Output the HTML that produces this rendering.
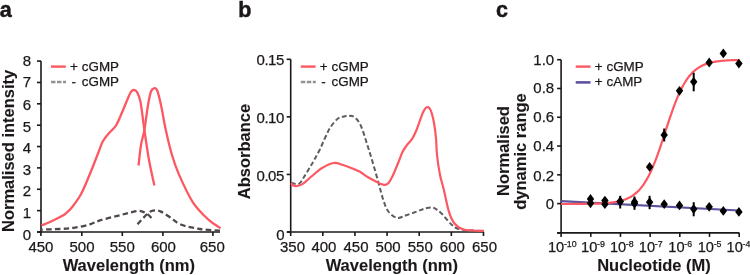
<!DOCTYPE html>
<html><head><meta charset="utf-8"><style>
html,body{margin:0;padding:0;background:#fff;}
svg{display:block;will-change:transform;}
text{font-family:"Liberation Sans", sans-serif;fill:#1c1819;stroke:#1c1819;stroke-width:0.25px;}
</style></head><body>
<svg width="750" height="275" viewBox="0 0 750 275">
<text x="-0.2" y="16.6" font-size="21.5" font-weight="bold" style="stroke-width:0.5px">a</text>
<text x="238.3" y="16.6" font-size="21.5" font-weight="bold" style="stroke-width:0.45px">b</text>
<text x="496" y="16.6" font-size="21.5" font-weight="bold" style="stroke-width:0.45px">c</text>
<line x1="41" y1="61.1" x2="41" y2="232" stroke="#1c1819" stroke-width="1.6"/>
<line x1="37" y1="232.0" x2="41" y2="232.0" stroke="#1c1819" stroke-width="1.6"/>
<text x="31" y="240.30" text-anchor="end" font-size="15">0</text>
<line x1="37" y1="210.6375" x2="41" y2="210.6375" stroke="#1c1819" stroke-width="1.6"/>
<text x="31" y="218.34" text-anchor="end" font-size="15">1</text>
<line x1="37" y1="189.275" x2="41" y2="189.275" stroke="#1c1819" stroke-width="1.6"/>
<text x="31" y="195.58" text-anchor="end" font-size="15">2</text>
<line x1="37" y1="167.9125" x2="41" y2="167.9125" stroke="#1c1819" stroke-width="1.6"/>
<text x="31" y="174.81" text-anchor="end" font-size="15">3</text>
<line x1="37" y1="146.55" x2="41" y2="146.55" stroke="#1c1819" stroke-width="1.6"/>
<text x="31" y="153.45" text-anchor="end" font-size="15">4</text>
<line x1="37" y1="125.1875" x2="41" y2="125.1875" stroke="#1c1819" stroke-width="1.6"/>
<text x="31" y="132.29" text-anchor="end" font-size="15">5</text>
<line x1="37" y1="103.82499999999999" x2="41" y2="103.82499999999999" stroke="#1c1819" stroke-width="1.6"/>
<text x="31" y="109.82" text-anchor="end" font-size="15">6</text>
<line x1="37" y1="82.4625" x2="41" y2="82.4625" stroke="#1c1819" stroke-width="1.6"/>
<text x="31" y="87.16" text-anchor="end" font-size="15">7</text>
<line x1="37" y1="61.099999999999994" x2="41" y2="61.099999999999994" stroke="#1c1819" stroke-width="1.6"/>
<text x="31" y="66.40" text-anchor="end" font-size="15">8</text>
<line x1="37.2" y1="232" x2="220" y2="232" stroke="#1c1819" stroke-width="1.6"/>
<line x1="40.9" y1="232" x2="40.9" y2="236" stroke="#1c1819" stroke-width="1.6"/>
<text x="40.90" y="252" text-anchor="middle" font-size="15">450</text>
<line x1="81.8" y1="232" x2="81.8" y2="236" stroke="#1c1819" stroke-width="1.6"/>
<text x="82.00" y="252" text-anchor="middle" font-size="15">500</text>
<line x1="122.3" y1="232" x2="122.3" y2="236" stroke="#1c1819" stroke-width="1.6"/>
<text x="122.30" y="252" text-anchor="middle" font-size="15">550</text>
<line x1="162.9" y1="232" x2="162.9" y2="236" stroke="#1c1819" stroke-width="1.6"/>
<text x="163.40" y="252" text-anchor="middle" font-size="15">600</text>
<line x1="212.9" y1="232" x2="212.9" y2="236" stroke="#1c1819" stroke-width="1.6"/>
<text x="212.30" y="252" text-anchor="middle" font-size="15">650</text>
<text x="128.8" y="270.5" text-anchor="middle" font-size="16.5" font-weight="bold" style="stroke-width:0.1px">Wavelength (nm)</text>
<text transform="translate(14.2 150.9) rotate(-90)" text-anchor="middle" font-size="16.5" font-weight="bold" style="stroke-width:0.1px">Normalised intensity</text>
<line x1="51" y1="66.6" x2="65.8" y2="66.6" stroke="#fd5862" stroke-width="2.4"/>
<text x="70.0" y="71.4" font-size="13.4">+</text>
<text x="81.8" y="71.4" font-size="13.4">cGMP</text>
<line x1="51" y1="82" x2="66" y2="82" stroke="#939393" stroke-width="2.4" stroke-dasharray="4.5 1.5"/>
<text x="71.4" y="85.7" font-size="13.4">-</text>
<text x="81.8" y="85.7" font-size="13.4">cGMP</text>
<path d="M41.50 225.50 C42.92 224.92 46.75 223.48 50.00 222.00 C53.25 220.52 58.33 218.05 61.00 216.60 C63.67 215.15 64.17 214.85 66.00 213.30 C67.83 211.75 69.47 210.55 72.00 207.30 C74.53 204.05 78.12 199.60 81.20 193.80 C84.28 188.00 87.67 179.30 90.50 172.50 C93.33 165.70 96.12 158.25 98.20 153.00 C100.28 147.75 101.03 144.50 103.00 141.00 C104.97 137.50 107.83 134.58 110.00 132.00 C112.17 129.42 114.00 128.75 116.00 125.50 C118.00 122.25 120.17 116.67 122.00 112.50 C123.83 108.33 125.58 103.83 127.00 100.50 C128.42 97.17 129.40 94.25 130.50 92.50 C131.60 90.75 132.52 90.08 133.60 90.00 C134.68 89.92 135.85 90.00 137.00 92.00 C138.15 94.00 139.27 95.67 140.50 102.00 C141.73 108.33 142.98 120.33 144.40 130.00 C145.82 139.67 147.33 150.73 149.00 160.00 C150.67 169.27 153.50 181.33 154.40 185.60" fill="none" stroke="#fd5862" stroke-width="2.3" stroke-linecap="butt" stroke-linejoin="round"/>
<path d="M138.50 165.50 C138.92 162.08 140.02 150.92 141.00 145.00 C141.98 139.08 143.23 136.67 144.40 130.00 C145.57 123.33 146.90 111.42 148.00 105.00 C149.10 98.58 150.00 94.28 151.00 91.50 C152.00 88.72 153.00 88.55 154.00 88.30 C155.00 88.05 155.83 87.22 157.00 90.00 C158.17 92.78 159.53 98.33 161.00 105.00 C162.47 111.67 163.97 121.67 165.80 130.00 C167.63 138.33 169.80 147.57 172.00 155.00 C174.20 162.43 175.52 166.72 179.00 174.60 C182.48 182.48 188.00 194.80 192.90 202.30 C197.80 209.80 203.80 215.28 208.40 219.60 C213.00 223.92 218.48 226.77 220.50 228.20" fill="none" stroke="#fd5862" stroke-width="2.3" stroke-linecap="butt" stroke-linejoin="round"/>
<path d="M151.50 218.00 C150.80 217.33 148.80 215.07 147.30 214.00 C145.80 212.93 144.08 212.12 142.50 211.60 C140.92 211.08 139.88 210.73 137.80 210.90 C135.72 211.07 132.97 211.88 130.00 212.60 C127.03 213.32 125.00 213.90 120.00 215.20 C115.00 216.50 105.00 218.88 100.00 220.40 C95.00 221.92 94.17 223.10 90.00 224.30 C85.83 225.50 80.00 226.82 75.00 227.60 C70.00 228.38 65.67 228.67 60.00 229.00 C54.33 229.33 44.17 229.50 41.00 229.60" fill="none" stroke="#4f484b" stroke-width="2.3" stroke-linecap="butt" stroke-linejoin="round" stroke-dasharray="5.5 3.2"/>
<path d="M137.50 224.30 C138.25 223.47 140.37 221.02 142.00 219.30 C143.63 217.58 145.80 215.33 147.30 214.00 C148.80 212.67 149.55 211.90 151.00 211.30 C152.45 210.70 154.33 210.35 156.00 210.40 C157.67 210.45 158.67 210.45 161.00 211.60 C163.33 212.75 166.70 215.15 170.00 217.30 C173.30 219.45 175.80 222.55 180.80 224.50 C185.80 226.45 193.47 227.97 200.00 229.00 C206.53 230.03 216.67 230.42 220.00 230.70" fill="none" stroke="#4f484b" stroke-width="2.3" stroke-linecap="butt" stroke-linejoin="round" stroke-dasharray="5.5 3.2"/>
<line x1="290.7" y1="59.3" x2="290.7" y2="232" stroke="#1c1819" stroke-width="1.6"/>
<line x1="286.7" y1="232.0" x2="290.7" y2="232.0" stroke="#1c1819" stroke-width="1.6"/>
<text x="284.5" y="239.90" text-anchor="end" font-size="15">0</text>
<line x1="286.7" y1="174.43333333333334" x2="290.7" y2="174.43333333333334" stroke="#1c1819" stroke-width="1.6"/>
<text x="283.9" y="180.63" text-anchor="end" font-size="15" letter-spacing="-0.45">0.05</text>
<line x1="286.7" y1="116.86666666666667" x2="290.7" y2="116.86666666666667" stroke="#1c1819" stroke-width="1.6"/>
<text x="283.9" y="122.97" text-anchor="end" font-size="15" letter-spacing="-0.45">0.10</text>
<line x1="286.7" y1="59.30000000000001" x2="290.7" y2="59.30000000000001" stroke="#1c1819" stroke-width="1.6"/>
<text x="283.9" y="65.40" text-anchor="end" font-size="15" letter-spacing="-0.45">0.15</text>
<line x1="287" y1="232" x2="484" y2="232" stroke="#1c1819" stroke-width="1.6"/>
<line x1="290.7" y1="232" x2="290.7" y2="236" stroke="#1c1819" stroke-width="1.6"/>
<text x="292.50" y="252" text-anchor="middle" font-size="15">350</text>
<line x1="322.83" y1="232" x2="322.83" y2="236" stroke="#1c1819" stroke-width="1.6"/>
<text x="323.93" y="252" text-anchor="middle" font-size="15">400</text>
<line x1="354.96" y1="232" x2="354.96" y2="236" stroke="#1c1819" stroke-width="1.6"/>
<text x="356.06" y="252" text-anchor="middle" font-size="15">450</text>
<line x1="387.09000000000003" y1="232" x2="387.09000000000003" y2="236" stroke="#1c1819" stroke-width="1.6"/>
<text x="388.09" y="252" text-anchor="middle" font-size="15">500</text>
<line x1="419.22" y1="232" x2="419.22" y2="236" stroke="#1c1819" stroke-width="1.6"/>
<text x="420.22" y="252" text-anchor="middle" font-size="15">550</text>
<line x1="451.35" y1="232" x2="451.35" y2="236" stroke="#1c1819" stroke-width="1.6"/>
<text x="452.35" y="252" text-anchor="middle" font-size="15">600</text>
<line x1="483.48" y1="232" x2="483.48" y2="236" stroke="#1c1819" stroke-width="1.6"/>
<text x="484.48" y="252" text-anchor="middle" font-size="15">650</text>
<text x="391.8" y="270.5" text-anchor="middle" font-size="16.5" font-weight="bold" style="stroke-width:0.1px">Wavelength (nm)</text>
<text transform="translate(250.2 151.6) rotate(-90)" text-anchor="middle" font-size="16.5" font-weight="bold" style="stroke-width:0.1px">Absorbance</text>
<line x1="300.8" y1="66.6" x2="315.6" y2="66.6" stroke="#fd5862" stroke-width="2.4"/>
<text x="319.8" y="71.4" font-size="13.4">+</text>
<text x="331.6" y="71.4" font-size="13.4">cGMP</text>
<line x1="300.8" y1="82" x2="315.8" y2="82" stroke="#939393" stroke-width="2.4" stroke-dasharray="4.5 1.5"/>
<text x="321.2" y="85.7" font-size="13.4">-</text>
<text x="331.6" y="85.7" font-size="13.4">cGMP</text>
<path d="M291.00 182.70 C292.32 182.88 296.73 184.75 298.90 183.80 C301.07 182.85 302.18 179.73 304.00 177.00 C305.82 174.27 308.10 170.23 309.80 167.40 C311.50 164.57 312.57 162.90 314.20 160.00 C315.83 157.10 317.80 153.67 319.60 150.00 C321.40 146.33 323.18 141.80 325.00 138.00 C326.82 134.20 328.33 130.45 330.50 127.20 C332.67 123.95 335.75 120.28 338.00 118.50 C340.25 116.72 342.17 116.97 344.00 116.50 C345.83 116.03 347.17 115.53 349.00 115.70 C350.83 115.87 353.00 115.78 355.00 117.50 C357.00 119.22 358.90 121.28 361.00 126.00 C363.10 130.72 365.77 140.13 367.60 145.80 C369.43 151.47 370.18 153.85 372.00 160.00 C373.82 166.15 376.67 176.20 378.50 182.70 C380.33 189.20 381.42 194.28 383.00 199.00 C384.58 203.72 385.67 207.87 388.00 211.00 C390.33 214.13 393.83 217.13 397.00 217.80 C400.17 218.47 403.60 216.08 407.00 215.00 C410.40 213.92 414.40 212.38 417.40 211.30 C420.40 210.22 422.48 209.13 425.00 208.50 C427.52 207.87 430.33 207.17 432.50 207.50 C434.67 207.83 436.25 209.25 438.00 210.50 C439.75 211.75 441.33 213.25 443.00 215.00 C444.67 216.75 446.50 219.33 448.00 221.00 C449.50 222.67 450.67 223.83 452.00 225.00 C453.33 226.17 453.83 227.17 456.00 228.00 C458.17 228.83 460.33 229.50 465.00 230.00 C469.67 230.50 480.83 230.83 484.00 231.00" fill="none" stroke="#5e5e60" stroke-width="2.0" stroke-linecap="butt" stroke-linejoin="round" stroke-dasharray="4.8 2.6"/>
<path d="M291.00 183.10 C291.58 183.58 292.67 185.78 294.50 186.00 C296.33 186.22 299.08 186.07 302.00 184.40 C304.92 182.73 308.67 178.73 312.00 176.00 C315.33 173.27 318.37 170.17 322.00 168.00 C325.63 165.83 330.30 163.50 333.80 163.00 C337.30 162.50 340.10 164.18 343.00 165.00 C345.90 165.82 348.37 166.77 351.20 167.90 C354.03 169.03 357.20 170.25 360.00 171.80 C362.80 173.35 365.33 175.58 368.00 177.20 C370.67 178.82 373.83 180.37 376.00 181.50 C378.17 182.63 379.50 183.45 381.00 184.00 C382.50 184.55 383.75 184.97 385.00 184.80 C386.25 184.63 387.23 184.47 388.50 183.00 C389.77 181.53 391.00 179.33 392.60 176.00 C394.20 172.67 396.45 167.00 398.10 163.00 C399.75 159.00 401.05 154.95 402.50 152.00 C403.95 149.05 405.17 147.52 406.80 145.30 C408.43 143.08 410.65 141.33 412.30 138.70 C413.95 136.07 415.12 133.40 416.70 129.50 C418.28 125.60 420.50 118.62 421.80 115.30 C423.10 111.98 423.67 110.95 424.50 109.60 C425.33 108.25 426.00 107.47 426.80 107.20 C427.60 106.93 428.52 107.12 429.30 108.00 C430.08 108.88 430.75 110.20 431.50 112.50 C432.25 114.80 433.05 117.52 433.80 121.80 C434.55 126.08 435.47 132.67 436.00 138.20 C436.53 143.73 436.33 148.87 437.00 155.00 C437.67 161.13 438.85 169.17 440.00 175.00 C441.15 180.83 442.43 183.95 443.90 190.00 C445.37 196.05 447.03 205.72 448.80 211.30 C450.57 216.88 452.18 220.52 454.50 223.50 C456.82 226.48 459.78 228.03 462.70 229.20 C465.62 230.37 468.45 230.22 472.00 230.50 C475.55 230.78 482.00 230.83 484.00 230.90" fill="none" stroke="#fd5862" stroke-width="2.2" stroke-linecap="butt" stroke-linejoin="round"/>
<line x1="561.1" y1="59.7" x2="561.1" y2="233" stroke="#1c1819" stroke-width="1.6"/>
<line x1="557.1" y1="59.69999999999999" x2="561.1" y2="59.69999999999999" stroke="#1c1819" stroke-width="1.6"/>
<text x="554.2" y="64.70" text-anchor="end" font-size="15">1.0</text>
<line x1="557.1" y1="88.47999999999999" x2="561.1" y2="88.47999999999999" stroke="#1c1819" stroke-width="1.6"/>
<text x="554.2" y="93.28" text-anchor="end" font-size="15">0.8</text>
<line x1="557.1" y1="117.25999999999999" x2="561.1" y2="117.25999999999999" stroke="#1c1819" stroke-width="1.6"/>
<text x="554.2" y="122.06" text-anchor="end" font-size="15">0.6</text>
<line x1="557.1" y1="146.04" x2="561.1" y2="146.04" stroke="#1c1819" stroke-width="1.6"/>
<text x="554.2" y="151.34" text-anchor="end" font-size="15">0.4</text>
<line x1="557.1" y1="174.82" x2="561.1" y2="174.82" stroke="#1c1819" stroke-width="1.6"/>
<text x="554.2" y="180.62" text-anchor="end" font-size="15">0.2</text>
<line x1="557.1" y1="203.6" x2="561.1" y2="203.6" stroke="#1c1819" stroke-width="1.6"/>
<text x="554.2" y="208.70" text-anchor="end" font-size="15">0</text>
<line x1="557.1" y1="233" x2="561.1" y2="233" stroke="#1c1819" stroke-width="1.6"/>
<line x1="557.3" y1="232.9" x2="739.5" y2="232.9" stroke="#1c1819" stroke-width="1.6"/>
<line x1="561.1" y1="232.9" x2="561.1" y2="236.9" stroke="#1c1819" stroke-width="1.6"/>
<text x="548.00" y="251.6" font-size="14.6">10<tspan font-size="8.8" dy="-4.6" dx="-0.3">-10</tspan></text>
<line x1="590.78" y1="232.9" x2="590.78" y2="236.9" stroke="#1c1819" stroke-width="1.6"/>
<text x="581.10" y="251.6" font-size="14.6">10<tspan font-size="8.8" dy="-4.6" dx="-0.3">-9</tspan></text>
<line x1="620.46" y1="232.9" x2="620.46" y2="236.9" stroke="#1c1819" stroke-width="1.6"/>
<text x="609.90" y="251.6" font-size="14.6">10<tspan font-size="8.8" dy="-4.6" dx="-0.3">-8</tspan></text>
<line x1="650.14" y1="232.9" x2="650.14" y2="236.9" stroke="#1c1819" stroke-width="1.6"/>
<text x="638.80" y="251.6" font-size="14.6">10<tspan font-size="8.8" dy="-4.6" dx="-0.3">-7</tspan></text>
<line x1="679.82" y1="232.9" x2="679.82" y2="236.9" stroke="#1c1819" stroke-width="1.6"/>
<text x="668.30" y="251.6" font-size="14.6">10<tspan font-size="8.8" dy="-4.6" dx="-0.3">-6</tspan></text>
<line x1="709.5" y1="232.9" x2="709.5" y2="236.9" stroke="#1c1819" stroke-width="1.6"/>
<text x="697.70" y="251.6" font-size="14.6">10<tspan font-size="8.8" dy="-4.6" dx="-0.3">-5</tspan></text>
<line x1="739.1800000000001" y1="232.9" x2="739.1800000000001" y2="236.9" stroke="#1c1819" stroke-width="1.6"/>
<text x="726.60" y="251.6" font-size="14.6">10<tspan font-size="8.8" dy="-4.6" dx="-0.3">-4</tspan></text>
<text x="654" y="270.5" text-anchor="middle" font-size="16.5" font-weight="bold" style="stroke-width:0.1px">Nucleotide (M)</text>
<text transform="translate(509 151) rotate(-90)" text-anchor="middle" font-size="16.5" font-weight="bold" style="stroke-width:0.1px">Normalised</text>
<text transform="translate(526.2 151.5) rotate(-90)" text-anchor="middle" font-size="16.5" font-weight="bold" style="stroke-width:0.1px">dynamic range</text>
<line x1="575.7" y1="66.6" x2="590.5" y2="66.6" stroke="#fd5862" stroke-width="2.4"/>
<text x="594.7" y="71.4" font-size="13.4">+</text>
<text x="606.5" y="71.4" font-size="13.4">cGMP</text>
<line x1="575.7" y1="82.4" x2="590.5" y2="82.4" stroke="#5e52a0" stroke-width="2.6"/>
<text x="594.7" y="85.7" font-size="13.4">+</text>
<text x="606.5" y="85.7" font-size="13.4">cAMP</text>
<line x1="561.1" y1="201.2" x2="739" y2="210.5" stroke="#5a529c" stroke-width="2.2"/>
<path d="M561.10 204.01 C561.35 204.01 562.09 204.01 562.58 204.01 C563.08 204.01 563.57 204.01 564.07 204.01 C564.56 204.01 565.06 204.00 565.55 204.00 C566.05 204.00 566.54 204.00 567.04 204.00 C567.53 204.00 568.03 204.00 568.52 203.99 C569.01 203.99 569.51 203.99 570.00 203.99 C570.50 203.99 570.99 203.99 571.49 203.98 C571.98 203.98 572.48 203.98 572.97 203.98 C573.47 203.97 573.96 203.97 574.46 203.97 C574.95 203.97 575.45 203.96 575.94 203.96 C576.43 203.96 576.93 203.96 577.42 203.95 C577.92 203.95 578.41 203.94 578.91 203.94 C579.40 203.94 579.90 203.93 580.39 203.93 C580.89 203.92 581.38 203.92 581.88 203.91 C582.37 203.91 582.87 203.90 583.36 203.90 C583.85 203.89 584.35 203.89 584.84 203.88 C585.34 203.87 585.83 203.87 586.33 203.86 C586.82 203.85 587.32 203.85 587.81 203.84 C588.31 203.83 588.80 203.82 589.30 203.81 C589.79 203.80 590.29 203.79 590.78 203.78 C591.27 203.77 591.77 203.76 592.26 203.75 C592.76 203.74 593.25 203.72 593.75 203.71 C594.24 203.70 594.74 203.68 595.23 203.67 C595.73 203.65 596.22 203.64 596.72 203.62 C597.21 203.60 597.71 203.58 598.20 203.56 C598.69 203.54 599.19 203.52 599.68 203.50 C600.18 203.48 600.67 203.45 601.17 203.43 C601.66 203.40 602.16 203.37 602.65 203.35 C603.15 203.32 603.64 203.29 604.14 203.25 C604.63 203.22 605.13 203.19 605.62 203.15 C606.11 203.11 606.61 203.07 607.10 203.03 C607.60 202.99 608.09 202.94 608.59 202.90 C609.08 202.85 609.58 202.80 610.07 202.75 C610.57 202.69 611.06 202.63 611.56 202.57 C612.05 202.51 612.55 202.45 613.04 202.38 C613.53 202.31 614.03 202.24 614.52 202.16 C615.02 202.08 615.51 202.00 616.01 201.91 C616.50 201.82 617.00 201.73 617.49 201.63 C617.99 201.53 618.48 201.42 618.98 201.31 C619.47 201.20 619.97 201.08 620.46 200.95 C620.95 200.82 621.45 200.69 621.94 200.54 C622.44 200.40 622.93 200.25 623.43 200.08 C623.92 199.92 624.42 199.75 624.91 199.57 C625.41 199.38 625.90 199.19 626.40 198.99 C626.89 198.78 627.39 198.56 627.88 198.33 C628.37 198.10 628.87 197.86 629.36 197.60 C629.86 197.34 630.35 197.06 630.85 196.77 C631.34 196.48 631.84 196.17 632.33 195.85 C632.83 195.52 633.32 195.18 633.82 194.81 C634.31 194.45 634.81 194.06 635.30 193.66 C635.79 193.25 636.29 192.82 636.78 192.37 C637.28 191.92 637.77 191.44 638.27 190.94 C638.76 190.43 639.26 189.91 639.75 189.35 C640.25 188.79 640.74 188.21 641.24 187.59 C641.73 186.98 642.23 186.33 642.72 185.66 C643.21 184.98 643.71 184.27 644.20 183.53 C644.70 182.79 645.19 182.01 645.69 181.20 C646.18 180.39 646.68 179.54 647.17 178.66 C647.67 177.77 648.16 176.86 648.66 175.90 C649.15 174.94 649.65 173.95 650.14 172.92 C650.63 171.89 651.13 170.82 651.62 169.72 C652.12 168.61 652.61 167.47 653.11 166.30 C653.60 165.12 654.10 163.91 654.59 162.66 C655.09 161.42 655.58 160.14 656.08 158.83 C656.57 157.52 657.07 156.17 657.56 154.80 C658.05 153.44 658.55 152.04 659.04 150.62 C659.54 149.20 660.03 147.75 660.53 146.29 C661.02 144.83 661.52 143.35 662.01 141.85 C662.51 140.36 663.00 138.85 663.50 137.34 C663.99 135.83 664.49 134.30 664.98 132.78 C665.47 131.26 665.97 129.73 666.46 128.21 C666.96 126.70 667.45 125.18 667.95 123.68 C668.44 122.17 668.94 120.68 669.43 119.20 C669.93 117.73 670.42 116.27 670.92 114.83 C671.41 113.39 671.91 111.97 672.40 110.58 C672.89 109.19 673.39 107.83 673.88 106.49 C674.38 105.16 674.87 103.85 675.37 102.58 C675.86 101.31 676.36 100.07 676.85 98.86 C677.35 97.66 677.84 96.49 678.34 95.36 C678.83 94.22 679.33 93.13 679.82 92.07 C680.31 91.01 680.81 89.98 681.30 89.00 C681.80 88.01 682.29 87.06 682.79 86.15 C683.28 85.24 683.78 84.36 684.27 83.52 C684.77 82.68 685.26 81.88 685.76 81.11 C686.25 80.34 686.75 79.61 687.24 78.90 C687.73 78.20 688.23 77.53 688.72 76.89 C689.22 76.25 689.71 75.64 690.21 75.06 C690.70 74.48 691.20 73.93 691.69 73.41 C692.19 72.88 692.68 72.39 693.18 71.92 C693.67 71.44 694.17 71.00 694.66 70.57 C695.15 70.15 695.65 69.75 696.14 69.37 C696.64 68.98 697.13 68.63 697.63 68.28 C698.12 67.94 698.62 67.62 699.11 67.32 C699.61 67.01 700.10 66.73 700.60 66.45 C701.09 66.18 701.59 65.93 702.08 65.68 C702.57 65.44 703.07 65.21 703.56 65.00 C704.06 64.78 704.55 64.58 705.05 64.39 C705.54 64.20 706.04 64.02 706.53 63.85 C707.03 63.68 707.52 63.52 708.02 63.37 C708.51 63.21 709.01 63.07 709.50 62.94 C709.99 62.81 710.49 62.68 710.98 62.56 C711.48 62.44 711.97 62.33 712.47 62.23 C712.96 62.12 713.46 62.02 713.95 61.93 C714.45 61.84 714.94 61.75 715.44 61.67 C715.93 61.59 716.43 61.51 716.92 61.44 C717.41 61.37 717.91 61.30 718.40 61.23 C718.90 61.17 719.39 61.11 719.89 61.05 C720.38 61.00 720.88 60.94 721.37 60.89 C721.87 60.84 722.36 60.80 722.86 60.75 C723.35 60.71 723.85 60.67 724.34 60.63 C724.83 60.59 725.33 60.55 725.82 60.52 C726.32 60.48 726.81 60.45 727.31 60.42 C727.80 60.39 728.30 60.36 728.79 60.34 C729.29 60.31 729.78 60.28 730.28 60.26 C730.77 60.24 731.27 60.22 731.76 60.19 C732.25 60.17 732.75 60.15 733.24 60.14 C733.74 60.12 734.23 60.10 734.73 60.08 C735.22 60.07 735.72 60.05 736.21 60.04 C736.71 60.02 737.20 60.01 737.70 60.00 C738.19 59.99 738.93 59.97 739.18 59.96" fill="none" stroke="#fd5862" stroke-width="2.2" stroke-linecap="butt" stroke-linejoin="round"/>
<line x1="620.2" y1="195.8" x2="620.2" y2="208.5" stroke="#000" stroke-width="2"/>
<line x1="649.6" y1="195.8" x2="649.6" y2="209.2" stroke="#000" stroke-width="2"/>
<line x1="693.7" y1="202.2" x2="693.7" y2="216.3" stroke="#000" stroke-width="2"/>
<line x1="693.7" y1="72.8" x2="693.7" y2="91.3" stroke="#000" stroke-width="2"/>
<line x1="664.2" y1="128.5" x2="664.2" y2="141.5" stroke="#000" stroke-width="2"/>
<line x1="634.5" y1="196.5" x2="634.5" y2="209.8" stroke="#000" stroke-width="2"/>
<path d="M590.5 194.0 L594.2 198.9 L590.5 203.8 L586.8 198.9 Z" fill="#000"/>
<path d="M604.9 195.7 L608.6 200.6 L604.9 205.5 L601.1999999999999 200.6 Z" fill="#000"/>
<path d="M620.2 196.6 L623.9000000000001 201.5 L620.2 206.4 L616.5 201.5 Z" fill="#000"/>
<path d="M634.5 197.1 L638.2 202 L634.5 206.9 L630.8 202 Z" fill="#000"/>
<path d="M649.6 162.0 L653.3000000000001 166.9 L649.6 171.8 L645.9 166.9 Z" fill="#000"/>
<path d="M664.2 130.0 L667.9000000000001 134.9 L664.2 139.8 L660.5 134.9 Z" fill="#000"/>
<path d="M679.5 85.89999999999999 L683.2 90.8 L679.5 95.7 L675.8 90.8 Z" fill="#000"/>
<path d="M693.7 76.89999999999999 L697.4000000000001 81.8 L693.7 86.7 L690.0 81.8 Z" fill="#000"/>
<path d="M709.2 57.6 L712.9000000000001 62.5 L709.2 67.4 L705.5 62.5 Z" fill="#000"/>
<path d="M723.3 48.5 L727.0 53.4 L723.3 58.3 L719.5999999999999 53.4 Z" fill="#000"/>
<path d="M738.9 58.7 L742.6 63.6 L738.9 68.5 L735.1999999999999 63.6 Z" fill="#000"/>
<path d="M590.5 198.4 L594.2 203.3 L590.5 208.20000000000002 L586.8 203.3 Z" fill="#000"/>
<path d="M604.9 199.29999999999998 L608.6 204.2 L604.9 209.1 L601.1999999999999 204.2 Z" fill="#000"/>
<path d="M620.2 196.6 L623.9000000000001 201.5 L620.2 206.4 L616.5 201.5 Z" fill="#000"/>
<path d="M634.5 198.6 L638.2 203.5 L634.5 208.4 L630.8 203.5 Z" fill="#000"/>
<path d="M649.6 197.29999999999998 L653.3000000000001 202.2 L649.6 207.1 L645.9 202.2 Z" fill="#000"/>
<path d="M664.2 199.29999999999998 L667.9000000000001 204.2 L664.2 209.1 L660.5 204.2 Z" fill="#000"/>
<path d="M679.5 200.5 L683.2 205.4 L679.5 210.3 L675.8 205.4 Z" fill="#000"/>
<path d="M693.7 204.1 L697.4000000000001 209 L693.7 213.9 L690.0 209 Z" fill="#000"/>
<path d="M709.2 201.9 L712.9000000000001 206.8 L709.2 211.70000000000002 L705.5 206.8 Z" fill="#000"/>
<path d="M723.3 206.0 L727.0 210.9 L723.3 215.8 L719.5999999999999 210.9 Z" fill="#000"/>
<path d="M738.9 207.0 L742.6 211.9 L738.9 216.8 L735.1999999999999 211.9 Z" fill="#000"/>
</svg></body></html>
